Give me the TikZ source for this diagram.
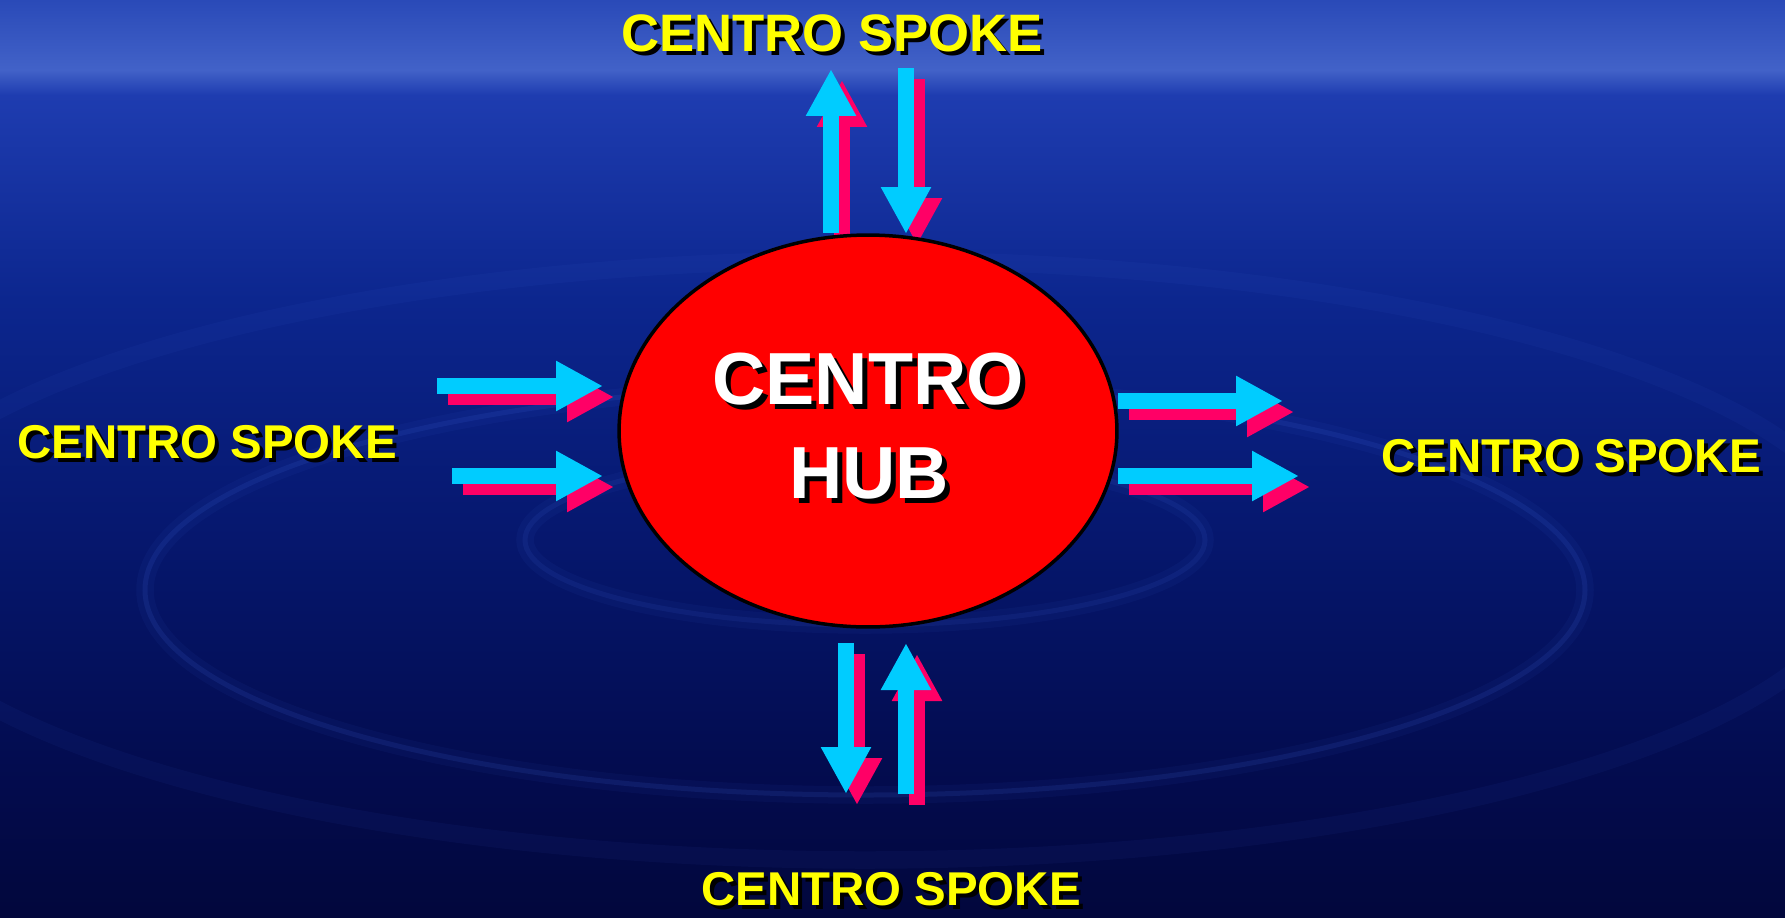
\documentclass[tikz,border=0pt]{standalone}
\usepackage{fontspec}
\setmainfont{Liberation Sans}
\usetikzlibrary{arrows.meta,shapes.geometric}
\definecolor{cyanA}{RGB}{0,204,255}
\definecolor{pinkA}{RGB}{255,0,102}
\definecolor{yel}{RGB}{255,255,0}
\definecolor{sky1}{RGB}{42,74,184}
\definecolor{sky2}{RGB}{66,98,200}
\definecolor{sea0}{RGB}{30,60,176}
\definecolor{sea2}{RGB}{12,38,142}
\definecolor{sea3}{RGB}{6,24,112}
\definecolor{sea4}{RGB}{3,12,80}
\definecolor{sea5}{RGB}{2,7,60}
\definecolor{ripc}{RGB}{70,110,230}
\begin{document}
\begin{tikzpicture}[x=0.02cm,y=-0.02cm,
  arrbase/.style={line width=0.32cm,-{Triangle[length=0.94cm,width=0.94cm]}},
  cyanarr/.style={arrbase,draw=cyanA,fill=cyanA},
  pinkarr/.style={arrbase,draw=pinkA,fill=pinkA},
  spoke/.style={font=\bfseries\fontsize{27}{32}\selectfont,text=yel,anchor=base,inner sep=0pt},
  spokebig/.style={spoke,font=\bfseries\fontsize{30}{36}\selectfont},
  hubtxt/.style={font=\bfseries\fontsize{42}{50}\selectfont,text=white,anchor=base,inner sep=0pt},
  ripple/.style={draw=ripc,line width=0.1cm,opacity=0.13},
  rippleglow/.style={draw=ripc,line width=0.35cm,opacity=0.06}]
\useasboundingbox (0,0) rectangle (1785,917);
% background
\shade[top color=sky1,bottom color=sky2] (0,0) rectangle (1785,70);
\shade[top color=sky2,bottom color=sea0] (0,70) rectangle (1785,95);
\shade[top color=sea0,bottom color=sea2] (0,95) rectangle (1785,300);
\shade[top color=sea2,bottom color=sea3] (0,300) rectangle (1785,520);
\shade[top color=sea3,bottom color=sea4] (0,520) rectangle (1785,760);
\shade[top color=sea4,bottom color=sea5] (0,760) rectangle (1785,917);
% ripples
\draw[rippleglow] (865,590) ellipse [x radius=720, y radius=205];
\draw[ripple] (865,590) ellipse [x radius=720, y radius=205];
\draw[rippleglow] (865,540) ellipse [x radius=340, y radius=85];
\draw[ripple,opacity=0.1] (865,540) ellipse [x radius=340, y radius=85];
\draw[rippleglow] (865,560) ellipse [x radius=1000, y radius=300];
% arrow end points
\coordinate (tUa) at (831,233); \coordinate (tUb) at (831,69);
\coordinate (tDa) at (906,68);  \coordinate (tDb) at (906,234);
\coordinate (lUa) at (437,386); \coordinate (lUb) at (603,386);
\coordinate (lDa) at (452,476); \coordinate (lDb) at (603,476);
\coordinate (rUa) at (1118,401); \coordinate (rUb) at (1283,401);
\coordinate (rDa) at (1118,476); \coordinate (rDb) at (1299,476);
\coordinate (bDa) at (846,643); \coordinate (bDb) at (846,794);
\coordinate (bUa) at (906,794); \coordinate (bUb) at (906,643);
\foreach \a/\b in {tUa/tUb,tDa/tDb,lUa/lUb,lDa/lDb,rUa/rUb,rDa/rDb,bDa/bDb,bUa/bUb}
  \draw[pinkarr] ([shift={(11,11)}]\a) -- ([shift={(11,11)}]\b);
\foreach \a/\b in {tUa/tUb,tDa/tDb,lUa/lUb,lDa/lDb,rUa/rUb,rDa/rDb,bDa/bDb,bUa/bUb}
  \draw[cyanarr] (\a) -- (\b);
% hub
\node[ellipse,draw=black,line width=0.07cm,fill=red,minimum width=9.96cm,minimum height=7.84cm,inner sep=0pt] (hub) at (868,431) {};
\node[hubtxt,text=black] (hub1s) at (873,409) {CENTRO};
\node[hubtxt] (hub1) at (868,404) {CENTRO};
\node[hubtxt,text=black] (hub2s) at (874,503) {HUB};
\node[hubtxt] (hub2) at (869,498) {HUB};
% spoke labels
\node[spokebig,text=black] (topS) at (836,55) {CENTRO SPOKE};
\node[spokebig] (top) at (832,51) {CENTRO SPOKE};
\node[spoke,text=black] (leftS) at (211,462) {CENTRO SPOKE};
\node[spoke] (left) at (207,458) {CENTRO SPOKE};
\node[spoke,text=black] (rightS) at (1575,476) {CENTRO SPOKE};
\node[spoke] (right) at (1571,472) {CENTRO SPOKE};
\node[spoke,text=black] (botS) at (895,909) {CENTRO SPOKE};
\node[spoke] (bot) at (891,905) {CENTRO SPOKE};
\end{tikzpicture}
\end{document}
